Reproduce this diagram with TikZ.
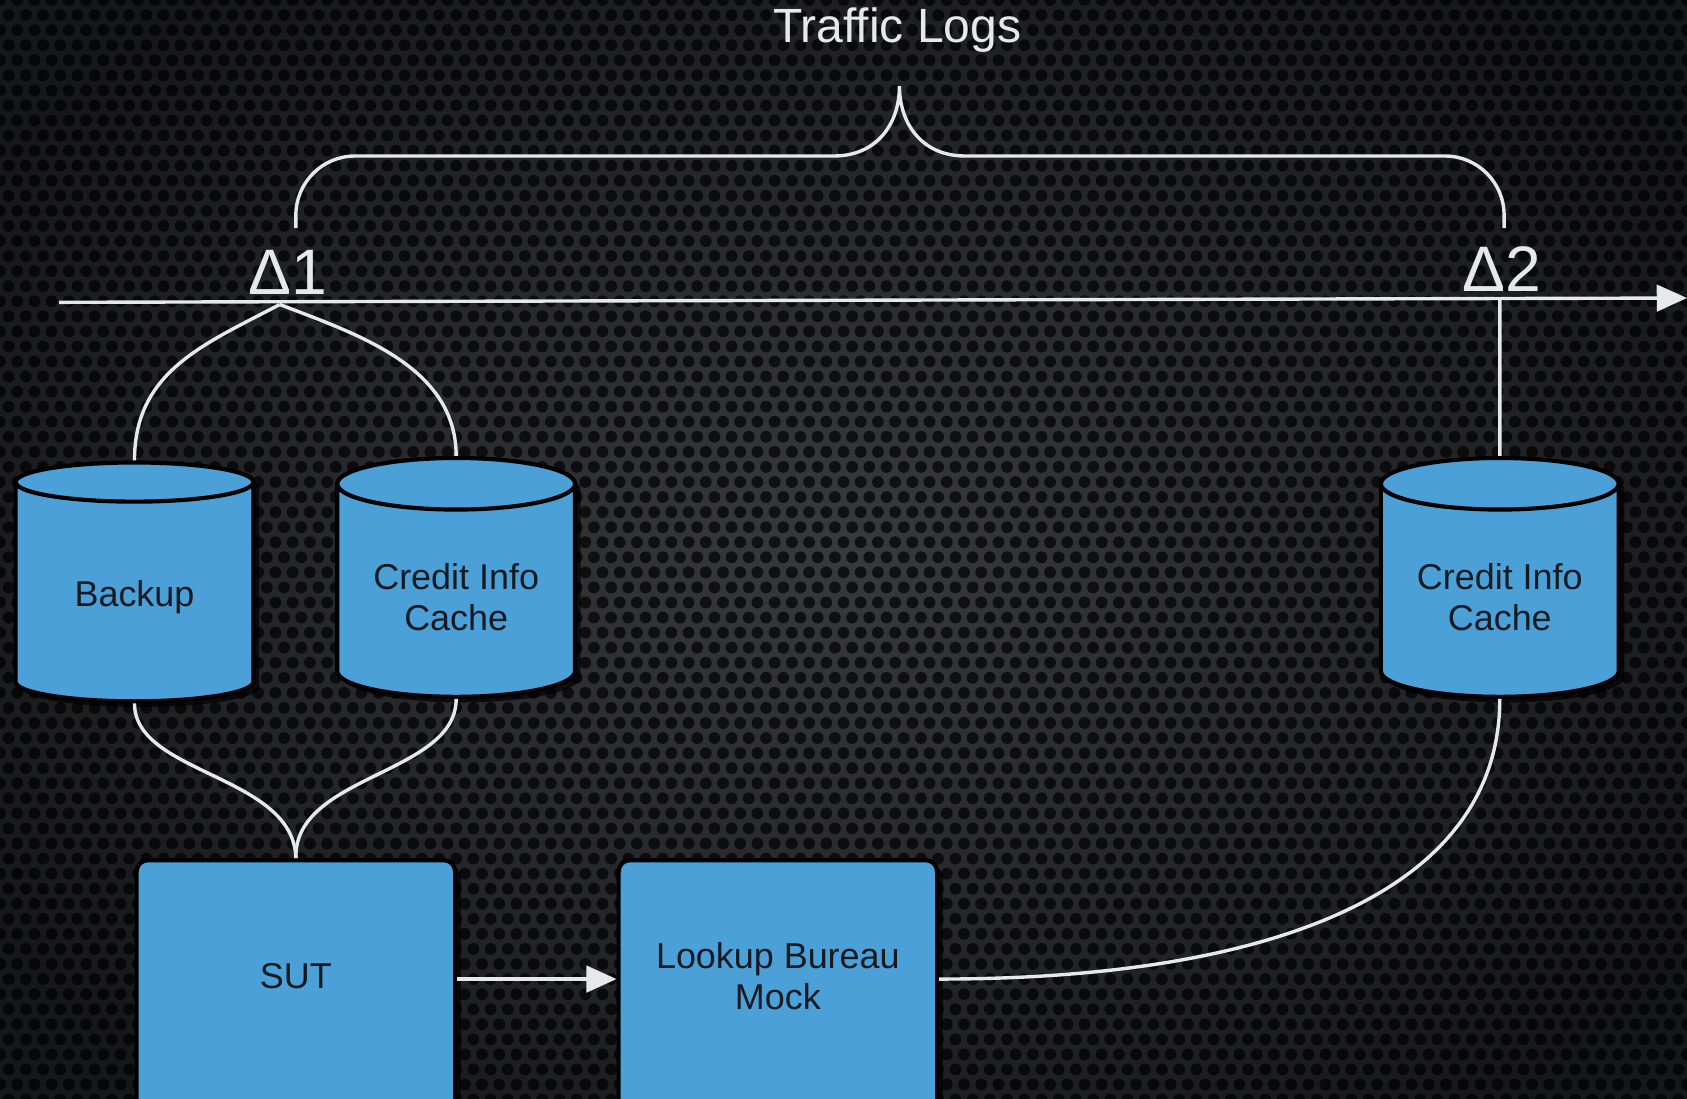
\documentclass[tikz,border=0pt]{standalone}
\usepackage{fontspec}
\setmainfont{Liberation Sans}
\usepackage{tikz}
\usepackage{xcolor}
\usetikzlibrary{shapes.geometric,arrows.meta,shadows,fadings}

\tikzfading[name=rim, inner color=transparent!100, outer color=transparent!0]

\begin{document}
\begin{tikzpicture}[x=0.1mm,y=-0.1mm,
  wire/.style={draw=wirewhite,line width=0.9pt},
  tip/.style={-{Triangle[length=8pt,width=7pt]}},
  holes/.style={line cap=round,dash pattern=on 0pt off 1.6mm},
  store/.style={cylinder,shape border rotate=90,aspect=0.27,draw=black,line width=1.1pt,
    fill=boxblue,text=boxtext,minimum width=22.1mm,minimum height=22.2mm,align=center,
    font=\fontsize{9.5}{11}\selectfont,drop shadow={shadow xshift=1.5pt,shadow yshift=-1.5pt,opacity=0.7,fill=black}},
  unit/.style={rectangle,rounded corners=3pt,draw=black,line width=1.1pt,fill=boxblue,text=boxtext,
    minimum width=29.6mm,minimum height=24.5mm,align=center,text depth=8.5pt,
    font=\fontsize{9.5}{11}\selectfont,drop shadow={shadow xshift=1.5pt,shadow yshift=-1.5pt,opacity=0.7,fill=black}},
  delta/.style={text=wirewhite,font=\fontsize{17}{20}\selectfont},
  title/.style={text=wirewhite,font=\fontsize{12.7}{15}\selectfont}]
\definecolor{meshgrey}{HTML}{393A3F}
\definecolor{holeblack}{HTML}{121216}
\definecolor{boxblue}{HTML}{4AA0D7}
\definecolor{boxtext}{HTML}{151A20}
\definecolor{wirewhite}{HTML}{E6E8EE}
  \useasboundingbox (0,0) rectangle (1568,1021);
  \fill[meshgrey] (-20,-20) rectangle (1600,1060);
  \foreach \j in {0,...,75}
  {  \pgfmathsetmacro{\shift}{mod(\j,2)*8}
     \draw[holes,holeblack,line width=1.1mm] (\shift,\j*14) -- (1600,\j*14);}
  \fill[black,opacity=0.6,path fading=rim,fit fading=true] (-150,-150) rectangle (1718,1171);

  \node[title] (logs) at (834,28) {Traffic Logs};
  \node[delta] (d1) at (268,253) {Δ1};
  \node[delta] (d2) at (1396,250) {Δ2};

  \coordinate (a0) at (55,281);
  \coordinate (a1) at (1568,277);
  \coordinate (t1) at (260,283);
  \coordinate (t2) at (1394,278);
  \coordinate (b1) at (275,212);
  \coordinate (b2) at (1398,212);
  \coordinate (peak) at (836,80);

  \node[store] (backup) at (125,555) {Backup};
  \node[store] (cache1) at (424,555) {Credit Info\\Cache};
  \node[store] (cache2) at (1394,555) {Credit Info\\Cache};
  \node[unit] (sut) at (275,922) {SUT};
  \node[unit] (mock) at (723,922) {Lookup Bureau\\Mock};

  \draw[wire,tip] (a0) -- (a1);
  \draw[wire] (b1) -- (275,200) arc[start angle=180,end angle=270,radius=55] -- (775,145)
    .. controls (815,145) and (836,115) .. (peak)
    .. controls (836,115) and (857,145) .. (897,145) -- (1343,145)
    arc[start angle=270,end angle=360,radius=55] -- (b2);
  \draw[wire] (t1) .. controls (190,320) and (125,345) .. (backup.north);
  \draw[wire] (t1) .. controls (330,310) and (424,340) .. (cache1.north);
  \draw[wire] (t2) -- (cache2.north);
  \draw[wire] (backup.south) .. controls (125,720) and (273,720) .. (sut.north);
  \draw[wire] (cache1.south) .. controls (424,720) and (273,720) .. (sut.north);
  \draw[wire,tip] ([yshift=1.2mm]sut.east) -- ([yshift=1.2mm]mock.west);
  \draw[wire] ([yshift=1.2mm]mock.east) .. controls (1180,910) and (1394,830) .. (cache2.south);
\end{tikzpicture}
\end{document}
